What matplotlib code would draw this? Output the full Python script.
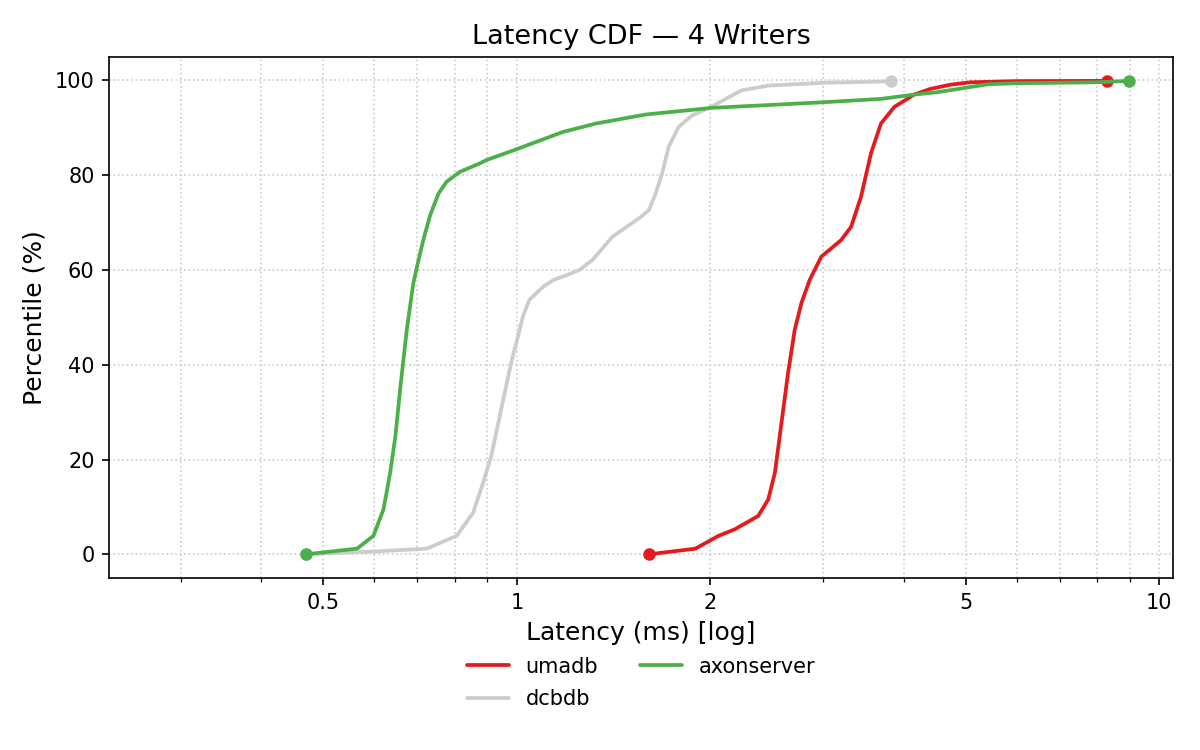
import matplotlib
matplotlib.use("Agg")
import matplotlib.pyplot as plt
from matplotlib.ticker import FixedLocator, FixedFormatter, LogLocator, NullFormatter

# latency (ms) vs percentile
umadb_ms = [1.605, 1.896, 2.06, 2.185, 2.375, 2.462, 2.521, 2.581, 2.643, 2.707,
            2.772, 2.856, 2.977, 3.196, 3.312, 3.432, 3.557, 3.687, 3.868, 4.15,
            4.4, 4.73, 5.08, 6.0, 8.28]
umadb_pct = [0, 1.2, 3.9, 5.3, 8.1, 11.6, 17.2, 27.7, 38.3, 47.4,
             53.0, 57.9, 62.8, 66.3, 69.1, 75.4, 84.6, 90.9, 94.4, 97.0,
             98.2, 99.1, 99.6, 99.85, 99.9]

dcbdb_ms = [0.469, 0.60, 0.724, 0.806, 0.855, 0.886, 0.912, 0.945, 0.98, 1.004,
            1.022, 1.046, 1.072, 1.10, 1.14, 1.19, 1.251, 1.311, 1.408, 1.549,
            1.605, 1.644, 1.683, 1.723, 1.786, 1.873, 2.011, 2.237, 2.46, 3.01,
            3.82]
dcbdb_pct = [0, 0.6, 1.2, 3.9, 8.8, 15.1, 20.7, 30.5, 40.5, 46.0,
             50.2, 53.7, 55.1, 56.5, 57.9, 58.8, 60.0, 62.1, 67.0, 70.9,
             72.6, 76.1, 80.4, 86.0, 90.2, 92.6, 94.5, 97.9, 98.9, 99.5,
             99.8]

axon_ms = [0.469, 0.564, 0.598, 0.620, 0.635, 0.647, 0.658, 0.674, 0.690, 0.703,
           0.715, 0.733, 0.755, 0.777, 0.815, 0.876, 0.897, 1.0, 1.178, 1.327,
           1.586, 2.011, 3.01, 3.687, 4.15, 4.51, 5.42, 6.0, 7.97, 8.97]
axon_pct = [0, 1.2, 3.9, 9.5, 17.2, 24.9, 34.7, 47.4, 57.2, 62.1,
            66.3, 71.6, 76.1, 78.6, 80.7, 82.5, 83.2, 85.5, 89.1, 90.9,
            92.8, 94.2, 95.4, 96.1, 97.0, 97.5, 99.2, 99.4, 99.6, 99.9]

series = [
    ("umadb", umadb_ms, umadb_pct, "#e41a1c"),
    ("dcbdb", dcbdb_ms, dcbdb_pct, "#cccccc"),
    ("axonserver", axon_ms, axon_pct, "#4daf4a"),
]

xticks = [0.5, 1, 2, 5, 10]
xticklabels = ["0.5", "1", "2", "5", "10"]

fig, ax = plt.subplots(figsize=(8, 5), dpi=150)
fig.subplots_adjust(left=0.091, right=0.9775, top=0.9244, bottom=0.2293)

for name, xs, ys, col in series:
    ax.plot(xs, ys, color=col, lw=1.8, label=name,
            solid_joinstyle="round", solid_capstyle="round")
    ax.plot([xs[0], xs[-1]], [ys[0], ys[-1]], "o", color=col, ms=5)

ax.set_xscale("log")
ax.set_xlim(0.232, 10.5)
ax.set_ylim(-5, 105)
ax.xaxis.set_major_locator(FixedLocator(xticks))
ax.xaxis.set_major_formatter(FixedFormatter(xticklabels))
ax.xaxis.set_minor_locator(LogLocator(base=10, subs=range(2, 10)))
ax.xaxis.set_minor_formatter(NullFormatter())
ax.set_yticks([0, 20, 40, 60, 80, 100])

ax.grid(True, which="both", axis="x", linestyle=":", color="#cccccc", lw=0.8)
ax.grid(True, which="major", axis="y", linestyle=":", color="#cccccc", lw=0.8)
ax.set_axisbelow(True)

ax.set_xlabel("Latency (ms) [log]", fontsize=12)
ax.set_ylabel("Percentile (%)", fontsize=12)
ax.set_title("Latency CDF — 4 Writers", fontsize=13)
ax.tick_params(labelsize=10)

ax.legend(loc="upper center", bbox_to_anchor=(0.5, -0.115), ncol=2, frameon=False,
          fontsize=10, columnspacing=2.0, labelspacing=0.6)

fig.savefig("out.png", dpi=150)
